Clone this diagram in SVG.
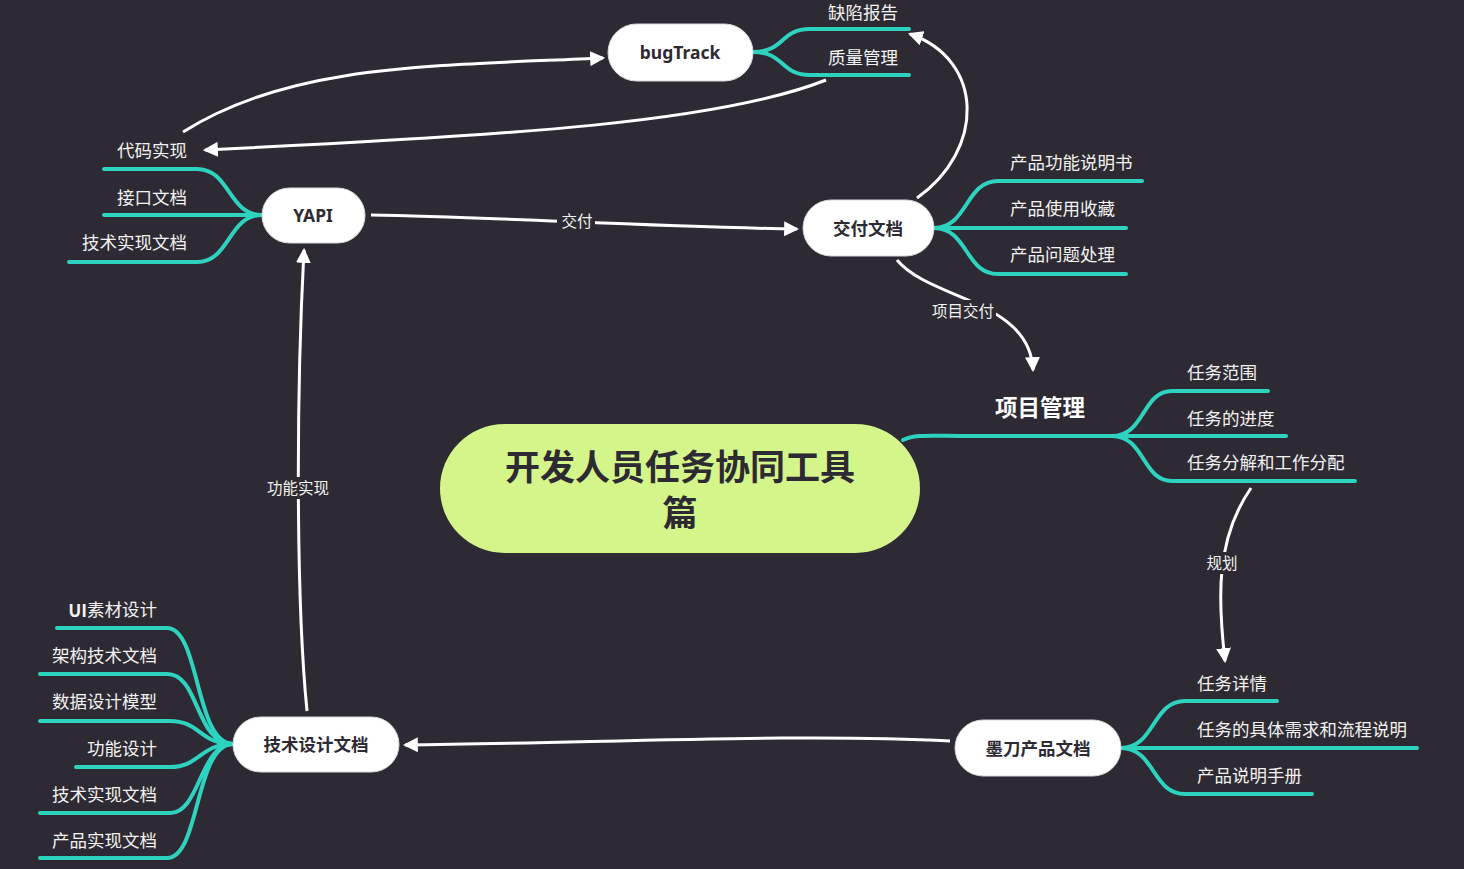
<svg xmlns="http://www.w3.org/2000/svg" width="1464" height="869" viewBox="0 0 1464 869">
<style>
.bg{fill:#2e2a33}
.br{fill:none;stroke:#2ed3bf;stroke-width:4;stroke-linecap:round}
.node{fill:#ffffff;stroke:#d9d9d9;stroke-width:1}
.nt{font-family:"Noto Sans","Noto Sans CJK SC",sans-serif;font-weight:bold;font-size:17.5px;fill:#2e2a33;text-anchor:middle;dominant-baseline:central}
.lt{font-family:"Noto Sans CJK SC",sans-serif;font-size:17.5px;fill:#f2f2f2;dominant-baseline:central;transform:translateY(-1.5px)}
.cl{font-family:"Noto Sans CJK SC",sans-serif;font-size:15.5px;fill:#f2f2f2;text-anchor:middle;dominant-baseline:central}
.con{fill:none;stroke:#ffffff;stroke-width:3;marker-end:url(#arr)}
</style>
<defs>
<marker id="arr" viewBox="0 0 14 14" markerWidth="15" markerHeight="15" refX="12" refY="7" orient="auto" markerUnits="userSpaceOnUse">
<path d="M0,0 L14,7 L0,14 z" fill="#ffffff"/>
</marker>
</defs>
<rect class="bg" x="0" y="0" width="1464" height="869"/>

<g id="branches">
<path class="br" d="M903,440 C 915,434 930,436 970,436 H1112"/>
<path class="br" d="M1112,436 C 1145,436 1142,391 1172,391 H1268"/>
<path class="br" d="M1112,436 H1286"/>
<path class="br" d="M1112,436 C 1145,436 1142,481 1172,481 H1355"/>
<path class="br" d="M753,52 C 785,52 780,29 810,29 H909"/>
<path class="br" d="M753,52 C 785,52 780,75 810,75 H909"/>
<path class="br" d="M262,215 C 228,215 230,169 197,169 H104"/>
<path class="br" d="M262,215 H104"/>
<path class="br" d="M262,215 C 228,215 230,262 197,262 H69"/>
<path class="br" d="M934,228 C 968,228 965,181 998,181 H1142"/>
<path class="br" d="M934,228 H1126"/>
<path class="br" d="M934,228 C 968,228 965,274 998,274 H1126"/>
<path class="br" d="M233,744 C 195,744 200,628 167,628 H57"/>
<path class="br" d="M233,744 C 195,744 200,674 167,674 H40"/>
<path class="br" d="M233,744 C 200,744 200,721 170,721 H40"/>
<path class="br" d="M233,744 C 200,744 200,767 170,767 H76"/>
<path class="br" d="M233,744 C 200,744 200,813 170,813 H40"/>
<path class="br" d="M233,744 C 195,744 200,858 167,858 H40"/>
<path class="br" d="M1121,748 C 1155,748 1152,701 1185,701 H1277"/>
<path class="br" d="M1121,748 H1417"/>
<path class="br" d="M1121,748 C 1155,748 1152,794 1185,794 H1312"/>
</g>

<g id="connectors">
<path class="con" d="M183,132 C 290,64 430,66 603,58"/>
<path class="con" d="M826,80 C 720,122 520,135 205,150"/>
<path class="con" d="M917,198 C 985,150 985,60 910,34"/>
<path class="con" d="M371,215 C 500,217 650,227 797,229"/>
<path class="con" d="M897,260 C 930,300 1030,300 1033,370"/>
<path class="con" d="M1251,488 C 1215,540 1218,600 1225,661"/>
<path class="con" d="M950,741 C 800,733 600,743 405,745"/>
<path class="con" d="M307,711 C 296,600 296,400 304,250"/>
<rect class="bg" x="557" y="210" width="38" height="22"/>
<text class="cl" x="577" y="220">交付</text>
<rect class="bg" x="930" y="300" width="66" height="22"/>
<text class="cl" x="963" y="310">项目交付</text>
<rect class="bg" x="1204" y="552" width="36" height="22"/>
<text class="cl" x="1222" y="562">规划</text>
<rect class="bg" x="264" y="477" width="68" height="22"/>
<text class="cl" x="298" y="487">功能实现</text>
</g>

<g id="center">
<rect x="440" y="424" width="480" height="129" rx="64.5" fill="#d3f589"/>
<text x="680" y="464" font-family="Noto Sans CJK SC,sans-serif" font-weight="bold" font-size="35" fill="#2e2a33" text-anchor="middle" dominant-baseline="central">开发人员任务协同工具</text>
<text x="680" y="510" font-family="Noto Sans CJK SC,sans-serif" font-weight="bold" font-size="35" fill="#2e2a33" text-anchor="middle" dominant-baseline="central">篇</text>
</g>

<g id="xiangmuguanli">
<text x="1040" y="406" font-family="Noto Sans CJK SC,sans-serif" font-weight="bold" font-size="22.5" fill="#ffffff" text-anchor="middle" dominant-baseline="central">项目管理</text>
<text class="lt" x="1187" y="373">任务范围</text>
<text class="lt" x="1187" y="419">任务的进度</text>
<text class="lt" x="1187" y="463">任务分解和工作分配</text>
</g>

<g id="bugtrack">
<rect class="node" x="608" y="24" width="145" height="57" rx="28.5"/>
<text class="nt" x="680" y="52">bugTrack</text>
<text class="lt" x="828" y="12.5">缺陷报告</text>
<text class="lt" x="828" y="58">质量管理</text>
</g>

<g id="yapi">
<rect class="node" x="262" y="188" width="103" height="55" rx="27.5"/>
<text class="nt" x="313" y="215">YAPI</text>
<text class="lt" x="187" y="151" text-anchor="end">代码实现</text>
<text class="lt" x="187" y="198" text-anchor="end">接口文档</text>
<text class="lt" x="187" y="243" text-anchor="end">技术实现文档</text>
</g>

<g id="jiaofu">
<rect class="node" x="803" y="200" width="131" height="56" rx="28"/>
<text class="nt" x="868" y="228">交付文档</text>
<text class="lt" x="1010" y="163">产品功能说明书</text>
<text class="lt" x="1010" y="209">产品使用收藏</text>
<text class="lt" x="1010" y="255">产品问题处理</text>
</g>

<g id="jishusheji">
<rect class="node" x="233" y="717" width="166" height="55" rx="27.5"/>
<text class="nt" x="316" y="744">技术设计文档</text>
<text class="lt" x="157" y="610" text-anchor="end"><tspan font-weight="bold">UI</tspan>素材设计</text>
<text class="lt" x="157" y="656" text-anchor="end">架构技术文档</text>
<text class="lt" x="157" y="702" text-anchor="end">数据设计模型</text>
<text class="lt" x="157" y="749" text-anchor="end">功能设计</text>
<text class="lt" x="157" y="795" text-anchor="end">技术实现文档</text>
<text class="lt" x="157" y="841" text-anchor="end">产品实现文档</text>
</g>

<g id="modao">
<rect class="node" x="955" y="720" width="166" height="56" rx="28"/>
<text class="nt" x="1038" y="748">墨刀产品文档</text>
<text class="lt" x="1197" y="684">任务详情</text>
<text class="lt" x="1197" y="730">任务的具体需求和流程说明</text>
<text class="lt" x="1197" y="776">产品说明手册</text>
</g>
</svg>
